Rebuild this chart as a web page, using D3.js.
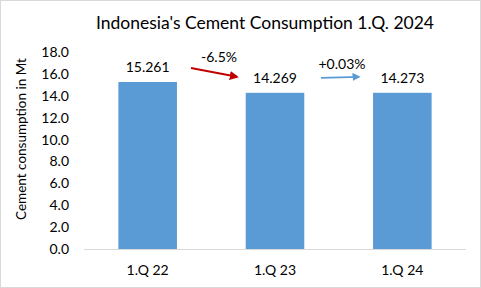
<!DOCTYPE html>
<html>
<head>
<meta charset="utf-8">
<script src="https://cdn.jsdelivr.net/npm/d3@7"></script>
<style>
  body { margin: 0; background: #fff; }
  svg { display: block; font-family: Lato, "Open Sans", sans-serif; }
</style>
</head>
<body>
<svg id="chart" width="481" height="288"></svg>
<script>
// data
var categories = ["1.Q 22", "1.Q 23", "1.Q 24"];
var values = [15.261, 14.269, 14.273];
var valueLabels = ["15.261", "14.269", "14.273"];
var changeLabels = ["-6.5%", "+0.03%"];
var changeColors = ["#C00000", "#5B9BD5"];
var yTicks = [0, 2, 4, 6, 8, 10, 12, 14, 16, 18];

var svg = d3.select("#chart");
var margin = { left: 84, right: 15, top: 52, bottom: 39 };
var W = 481, H = 288;

// border
svg.append("rect")
    .attr("x", 0.5).attr("y", 0.5)
    .attr("width", W - 1).attr("height", H - 1)
    .attr("fill", "#fff").attr("stroke", "#d9d9d9");

var x = d3.scaleBand()
    .domain(categories)
    .range([margin.left, W - margin.right])
    .paddingInner(0.54).paddingOuter(0.27);

var y = d3.scaleLinear()
    .domain([0, 18])
    .range([H - margin.bottom, margin.top]);

// title
svg.append("text")
    .attr("x", 265).attr("y", 29)
    .attr("text-anchor", "middle")
    .attr("font-size", 17.5)
    .attr("fill", "#000")
    .text("Indonesia's Cement Consumption 1.Q. 2024");

// y axis labels
var yAxis = d3.axisLeft(y).tickValues(yTicks).tickFormat(d3.format(".1f")).tickSize(0).tickPadding(15);
var gy = svg.append("g").attr("transform", "translate(" + margin.left + ",0)").call(yAxis);
gy.select(".domain").remove();
gy.selectAll("text").attr("font-size", 14).attr("fill", "#000").attr("font-family", "Lato, 'Open Sans', sans-serif");

svg.append("text")
    .attr("transform", "translate(26," + 139 + ") rotate(-90)")
    .attr("text-anchor", "middle")
    .attr("font-size", 13.5)
    .attr("fill", "#000")
    .text("Cement consumption  in Mt");

// bars
svg.selectAll(".bar")
    .data(values)
    .enter()
    .append("rect")
    .attr("class", "bar")
    .attr("x", function (d, i) { return x(categories[i]); })
    .attr("y", function (d) { return y(d); })
    .attr("width", x.bandwidth())
    .attr("height", function (d) { return y(0) - y(d); })
    .attr("fill", "#5B9BD5");

// baseline
svg.append("line")
    .attr("x1", margin.left).attr("x2", W - margin.right)
    .attr("y1", y(0) + 0.5).attr("y2", y(0) + 0.5)
    .attr("stroke", "#d9d9d9");

// x labels
svg.selectAll(".xlab")
    .data(categories)
    .enter()
    .append("text")
    .attr("x", function (d) { return x(d) + x.bandwidth() / 2; })
    .attr("y", y(0) + 26)
    .attr("text-anchor", "middle")
    .attr("font-size", 14)
    .attr("fill", "#000")
    .text(function (d) { return d; });

// value labels
svg.selectAll(".vlab")
    .data(values)
    .enter()
    .append("text")
    .attr("x", function (d, i) { return x(categories[i]) + x.bandwidth() / 2; })
    .attr("y", function (d) { return y(d) - 10; })
    .attr("text-anchor", "middle")
    .attr("font-size", 14)
    .attr("fill", "#000")
    .text(function (d, i) { return valueLabels[i]; });

// arrows
var defs = svg.append("defs");
changeColors.forEach(function (c, i) {
    defs.append("marker")
        .attr("id", "arrow" + i)
        .attr("viewBox", "0 -5 10 10")
        .attr("refX", 8).attr("refY", 0)
        .attr("markerWidth", 4.5).attr("markerHeight", 4.5)
        .attr("markerUnits", "strokeWidth")
        .attr("orient", "auto")
        .append("path")
        .attr("d", "M0,-5 L10,0 L0,5 Z")
        .attr("fill", c);
});

var arrowSpecs = [
    { x1: 191, y1: y(values[0]) - 14, x2: 237, y2: y(values[1]) - 16, tx: 219, ty: 62, w: 2 },
    { x1: 321, y1: y(values[1]) - 15, x2: 359, y2: y(values[2]) - 16, tx: 342, ty: 69, w: 1.8 }
];
arrowSpecs.forEach(function (a, i) {
    svg.append("line")
        .attr("x1", a.x1).attr("y1", a.y1)
        .attr("x2", a.x2).attr("y2", a.y2)
        .attr("stroke", changeColors[i])
        .attr("stroke-width", a.w)
        .attr("marker-end", "url(#arrow" + i + ")");
    svg.append("text")
        .attr("x", a.tx).attr("y", a.ty)
        .attr("text-anchor", "middle")
        .attr("font-size", 14)
        .attr("fill", "#000")
        .text(changeLabels[i]);
});
</script>
</body>
</html>
